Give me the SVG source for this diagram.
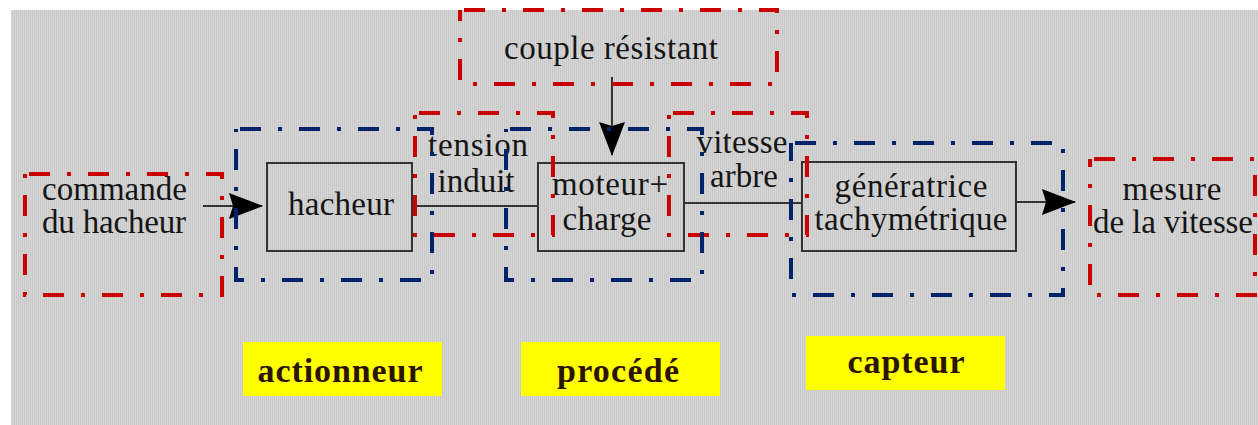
<svg xmlns="http://www.w3.org/2000/svg" width="1258" height="425" viewBox="0 0 1258 425">
<defs>
<pattern id="stripes" width="2" height="4" patternUnits="userSpaceOnUse">
<rect width="2" height="4" fill="#d6d6d6"/>
<rect width="1" height="4" fill="#c9c9c9"/>
</pattern>
<marker id="arr" viewBox="0 0 34 28" refX="33" refY="14" markerWidth="34" markerHeight="28" markerUnits="userSpaceOnUse" orient="auto">
<path d="M0,1 L34,14 L0,27 L4,14 Z" fill="#000"/>
</marker>
</defs>
<style>
.box{fill:none;stroke:#333;stroke-width:2}
.t{font-family:"Liberation Serif","Times New Roman",serif;font-size:33px;fill:#151515}
.c{text-anchor:middle}
.wire{stroke:#333;stroke-width:2;fill:none}
.red{fill:none;stroke:#c80000;stroke-width:4;stroke-dasharray:21 17 4 17;stroke-dashoffset:-4}
.blue{fill:none;stroke:#00236a;stroke-width:4;stroke-dasharray:21 17 4 17;stroke-dashoffset:-4}
.tag{fill:#ffff00}
.tagt{font-family:"Liberation Serif","Times New Roman",serif;font-weight:bold;font-size:34px;fill:#2b1500;text-anchor:middle}
</style>
<rect x="0" y="0" width="1258" height="425" fill="#ffffff"/>
<rect x="11" y="10" width="1247" height="415" fill="url(#stripes)"/>

<g id="commande">
<text class="t" x="42" y="200" textLength="145">commande</text>
<text class="t" x="42" y="233" textLength="144">du hacheur</text>
</g>
<g id="hacheur">
<rect class="box" x="267" y="163" width="145" height="88"/>
<text class="t c" x="341" y="215" textLength="106">hacheur</text>
</g>
<g id="couple">
<text class="t c" x="611" y="59" textLength="214">couple résistant</text>
</g>
<g id="tension">
<text class="t c" x="478" y="156" textLength="100">tension</text>
<text class="t c" x="476" y="192" textLength="77">induit</text>
</g>
<g id="moteur">
<rect class="box" x="538" y="163" width="146" height="88"/>
<text class="t c" x="610" y="195" textLength="116">moteur+</text>
<text class="t c" x="607" y="230" textLength="89">charge</text>
</g>
<g id="vitesse">
<text class="t c" x="742" y="153" textLength="91">vitesse</text>
<text class="t c" x="744" y="187" textLength="68">arbre</text>
</g>
<g id="generatrice">
<rect class="box" x="802" y="162" width="214" height="89"/>
<text class="t c" x="911" y="197" textLength="153">génératrice</text>
<text class="t c" x="911" y="230" textLength="193">tachymétrique</text>
</g>
<g id="mesure">
<text class="t c" x="1172" y="200" textLength="99">mesure</text>
<text class="t c" x="1173" y="233" textLength="160">de la vitesse</text>
</g>

<g id="connectors">
<line class="wire" x1="203" y1="206" x2="262" y2="206" marker-end="url(#arr)"/>
<line class="wire" x1="612" y1="77" x2="612" y2="155" marker-end="url(#arr)"/>
<line class="wire" x1="412" y1="206" x2="538" y2="206"/>
<line class="wire" x1="684" y1="203" x2="802" y2="203"/>
<line class="wire" x1="1016" y1="202" x2="1075" y2="202" marker-end="url(#arr)"/>
</g>

<g id="frames">
<rect id="f-commande" class="red" x="25" y="174" width="197" height="121"/>
<rect id="f-couple" class="red" x="460" y="10" width="317" height="74"/>
<rect id="f-tension" class="red" x="415" y="113" width="138" height="122"/>
<rect id="f-vitesse" class="red" x="669" y="113" width="138" height="122"/>
<rect id="f-mesure" class="red" x="1090" y="159" width="165" height="136"/>
<rect id="f-actionneur" class="blue" x="236" y="129" width="196" height="151"/>
<rect id="f-procede" class="blue" x="506" y="129" width="196" height="151"/>
<rect id="f-capteur" class="blue" x="791" y="143" width="272" height="152"/>
</g>

<g id="label-actionneur">
<rect class="tag" x="243" y="342" width="199" height="54"/>
<text class="tagt" x="340" y="382" textLength="165">actionneur</text>
</g>
<g id="label-procede">
<rect class="tag" x="521" y="342" width="199" height="54"/>
<text class="tagt" x="618" y="382" textLength="122">procédé</text>
</g>
<g id="label-capteur">
<rect class="tag" x="806" y="336" width="199" height="54"/>
<text class="tagt" x="906" y="373" textLength="117">capteur</text>
</g>
</svg>
